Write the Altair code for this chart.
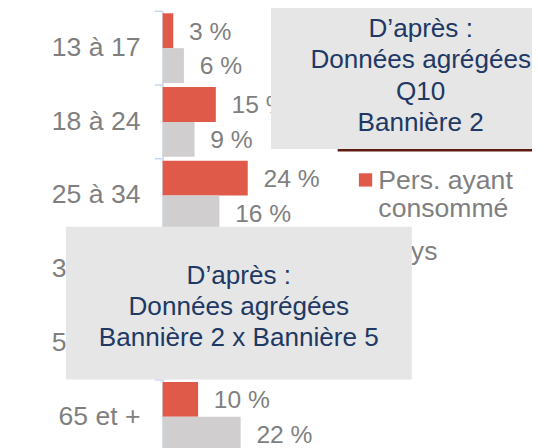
import altair as alt
import pandas as pd

# ---- data ----
categories = ["13 à 17", "18 à 24", "25 à 34", "35 à 49", "50 à 64", "65 et +"]
series = ["Pers. ayant consommé", "Pays"]
consumed = [3, 15, 24, 28, 20, 10]
country = [6, 9, 16, 25, 22, 22]
legend_labels = [["Pers. ayant", "consommé"], ["Pays"]]
box1_lines = ["D’après :", "Données agrégées", "Q10", "Bannière 2"]
box2_lines = ["D’après :", "Données agrégées", "Bannière 2 x Bannière 5"]

rows = []
for c, a, b in zip(categories, consumed, country):
    rows.append({"cat": c, "serie": series[0], "v": a})
    rows.append({"cat": c, "serie": series[1], "v": b})
df = pd.DataFrame(rows)

# ---- styles ----
RED = "#e05a4a"
GRAY = "#d0cece"
TXT = "#7f7f7f"
AX = "#c6d6ee"
BOX = "#e6e6e6"
NAVY = "#203864"
BROWN = "#5e1c12"
FONT = "Liberation Sans"

y_axis = alt.Axis(title=None, ticks=False, tickSize=0, labelPadding=23,
                  labelFontSize=27, labelColor=TXT, labelFont=FONT,
                  domainColor=AX, domainWidth=1.5)
y_scale = alt.Scale(domain=categories, range=[0, 449.1], paddingInner=0, paddingOuter=0)
yoff_scale = alt.Scale(domain=series, paddingInner=0, paddingOuter=0.057)
x_scale = alt.Scale(domain=[0, 100], range=[0, 360])
color_scale = alt.Scale(domain=series, range=[RED, GRAY])

y_enc = alt.Y("cat:N", scale=y_scale, sort=categories, axis=y_axis)
yoff_enc = alt.YOffset("serie:N", scale=yoff_scale, sort=series)

base = alt.Chart(df)
bars = base.mark_bar().encode(
    y=y_enc,
    yOffset=yoff_enc,
    x=alt.X("v:Q", scale=x_scale, axis=None),
    color=alt.Color("serie:N", scale=color_scale, legend=None),
)
labels = base.transform_calculate(label="datum.v + ' %'").mark_text(
    align="left", baseline="middle", dx=16, dy=1, fontSize=25, font=FONT, color=TXT
).encode(
    y=y_enc,
    yOffset=yoff_enc,
    x=alt.X("v:Q", scale=x_scale, axis=None),
    text="label:N",
)
ticks = alt.Chart(pd.DataFrame({"cat": categories})).mark_rule(
    color=AX, strokeWidth=1.5
).encode(
    y=alt.Y("cat:N", scale=y_scale, sort=categories, axis=y_axis, bandPosition=0),
    x=alt.value(-8),
    x2=alt.value(0),
)

# ---- legend (manual) ----
leg_df = pd.DataFrame({"serie": series})
legend_layers = []
leg_y0 = 171.2
leg_step = 72.4
for i, s in enumerate(series):
    sub = alt.Chart(leg_df).transform_filter(alt.datum.serie == s)
    legend_layers.append(
        sub.mark_square(size=182, opacity=1, color=[RED, GRAY][i]).encode(
            x=alt.value(206), y=alt.value(leg_y0 + i * leg_step)
        )
    )
    legend_layers.append(
        sub.mark_text(
            align="left", baseline="alphabetic", fontSize=27, font=FONT,
            color=TXT, lineHeight=29, text=legend_labels[i]
        ).encode(x=alt.value(219), y=alt.value(leg_y0 + 9 + i * leg_step))
    )

one = pd.DataFrame({"k": [0]})
brown = alt.Chart(one).mark_rule(color=BROWN, strokeWidth=2.5).encode(
    x=alt.value(177.7), x2=alt.value(390), y=alt.value(141)
)
box1 = alt.Chart(one).mark_rect(color=BOX).encode(
    x=alt.value(110), x2=alt.value(430), y=alt.value(-8), y2=alt.value(139.7)
)
box1_text = alt.Chart(one).mark_text(
    align="center", baseline="alphabetic", fontSize=26.5, font=FONT, color=NAVY,
    lineHeight=31.7, text=box1_lines
).encode(x=alt.value(262), y=alt.value(26.3))
box2 = alt.Chart(one).mark_rect(color=BOX).encode(
    x=alt.value(-98.3), x2=alt.value(253), y=alt.value(218.7), y2=alt.value(373.7)
)
box2_text = alt.Chart(one).mark_text(
    align="center", baseline="alphabetic", fontSize=26.5, font=FONT, color=NAVY,
    lineHeight=31.7, text=box2_lines
).encode(x=alt.value(77.3), y=alt.value(276.8))

chart = alt.layer(
    bars, labels, ticks, *legend_layers, brown, box1, box1_text, box2, box2_text
).properties(
    width=375, height=440,
    padding={"left": 157, "top": 0, "right": 0, "bottom": 0},
    autosize=alt.AutoSizeParams(type="none"),
).configure_view(stroke=None)

chart.save("out.html", embed_options={"renderer": "svg", "actions": False})
